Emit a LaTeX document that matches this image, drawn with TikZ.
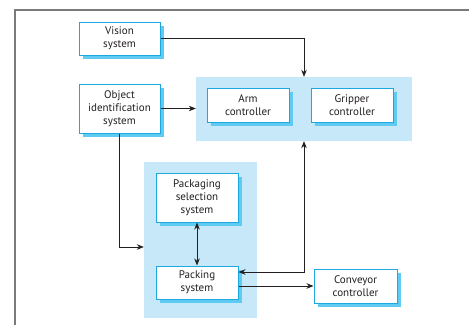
\documentclass[tikz,border=0pt]{standalone}
\usepackage{fontspec}
\setmainfont[Ligatures=NoCommon]{PT Sans}
\usetikzlibrary{arrows.meta,shadows}
\definecolor{boxline}{HTML}{1EA8E0}
\definecolor{boxshadow}{HTML}{5FCBF3}
\definecolor{zonefill}{HTML}{C6E8F8}
\definecolor{framegray}{HTML}{7A7A7A}
\definecolor{ink}{HTML}{231F20}
\begin{document}
\begin{tikzpicture}[x=1pt,y=-1pt,
  comp/.style={draw=boxline, line width=1pt, fill=white, align=center,
    inner sep=0pt, text=ink, font=\fontsize{11}{13}\selectfont,
    drop shadow={shadow xshift=4pt, shadow yshift=-4pt, fill=boxshadow, opacity=1}},
  zone/.style={fill=zonefill, draw=none, inner sep=0pt},
  arr/.style={draw=ink, -{Stealth[length=7pt,width=5.5pt]}, line width=0.7pt},
  biarr/.style={draw=ink, {Stealth[length=7pt,width=5.5pt]}-{Stealth[length=7pt,width=5.5pt]}, line width=0.7pt}]
\useasboundingbox (0,0) rectangle (469,325);
% outer frame
\coordinate (fbl) at (15,325);
\coordinate (ftl) at (15,10);
\coordinate (ftr) at (469,10);
\draw[framegray, line width=1.6pt] (fbl) -- (ftl) -- (ftr);
% shaded groups
\node[zone, minimum width=216pt, minimum height=64pt] (ctrl) at (304,109) {};
\node[zone, minimum width=113pt, minimum height=156pt] (packzone) at (200.5,240) {};
% components
\node[comp, minimum width=81pt, minimum height=33pt] (vision) at (119.5,38.5) {Vision\\system};
\node[comp, minimum width=81pt, minimum height=49pt] (objid) at (119.5,108.5) {Object\\identification\\system};
\node[comp, minimum width=82pt, minimum height=34pt] (arm) at (248,105) {Arm\\controller};
\node[comp, minimum width=82pt, minimum height=34pt] (grip) at (352,105) {Gripper\\controller};
\node[comp, minimum width=82pt, minimum height=49pt] (pksel) at (197,197.5) {Packaging\\selection\\system};
\node[comp, minimum width=82pt, minimum height=33pt] (pack) at (197,282.5) {Packing\\system};
\node[comp, minimum width=83pt, minimum height=34pt] (conv) at (355.5,286) {Conveyor\\controller};
% connectors
\draw[arr] (vision.east) -| (ctrl.north);
\draw[arr] (objid.east) -- (objid.east -| ctrl.west);
\draw[arr] (objid.south) |- ([yshift=-7pt]packzone.west);
\draw[biarr] (pksel.south) -- (pack.north);
\draw[biarr] ([yshift=10.5pt]pack.east) -| (ctrl.south);
\draw[arr] (conv.west -| pack.east) -- (conv.west);
\end{tikzpicture}
\end{document}
